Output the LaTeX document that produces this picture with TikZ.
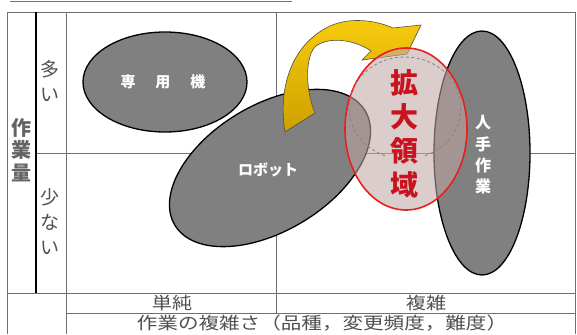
\documentclass[tikz,border=0pt]{standalone}
\usepackage{fontspec}
\setmainfont{Noto Sans CJK JP}
\newfontfamily\jp{Noto Sans CJK JP}
\usetikzlibrary{shapes.geometric}
\definecolor{gridgray}{RGB}{112,112,112}
\definecolor{blobgray}{RGB}{128,128,128}
\definecolor{axgray}{RGB}{80,80,80}
\definecolor{axgraylt}{RGB}{100,100,100}
\definecolor{pinkfill}{RGB}{193,167,167}
\definecolor{redline}{RGB}{235,30,30}
\definecolor{kred}{RGB}{200,20,30}
\definecolor{dashgray}{RGB}{130,130,130}
\definecolor{goldtop}{RGB}{248,204,12}
\definecolor{goldbot}{RGB}{205,160,0}
\definecolor{arrowline}{RGB}{80,80,60}
\begin{document}
\begin{tikzpicture}[x=1pt,y=-1pt,
  grid/.style={draw=gridgray, line width=0.9pt},
  blob/.style={draw=black, line width=1.3pt, fill=blobgray},
  wlabel/.style={text=white, inner sep=0pt, font=\jp\bfseries\fontsize{15}{18}\selectfont},
  axlabel/.style={text=axgray, inner sep=0pt, align=center, font=\jp\fontsize{19}{25}\selectfont},
  xlabel/.style={text=axgray, inner sep=0pt, font=\jp\fontsize{17}{20}\selectfont},
]
\useasboundingbox (0,0) rectangle (577,334);
\fill[white] (0,0) rectangle (577,334);
% table lines
\draw[grid] (10,1) -- (292,1);
\draw[grid] (7,334) -- (7,12) -- (575,12) -- (575,334);
\draw[grid] (36,153) -- (575,153);
\draw[grid] (7,293) -- (575,293);
\draw[grid] (66,313) -- (575,313);
\draw[grid] (66,12) -- (66,334);
\draw[grid] (276,12) -- (276,313);
\draw[black, line width=1.8pt] (36,12) -- (36,293);
% axis labels
\node[axlabel, text=axgraylt, font=\jp\bfseries\fontsize{20}{22.5}\selectfont] (sagyoryo) at (22,150) {作\\業\\量};
\node[axlabel] (ooi) at (50,81) {多\\い};
\node[axlabel] (sukunai) at (50,222) {少\\な\\い};
\node[xlabel] (tanjun) at (172,303) {\scalebox{1.18}[1]{単純}};
\node[xlabel] (fukuzatsu) at (426,303) {\scalebox{1.18}[1]{複雑}};
\node[xlabel] (fukuzatsusa) at (322,323) {\scalebox{1.21}[1]{作業の複雑さ（品種，変更頻度，難度）}};
% ellipses
\node[blob, ellipse, minimum width=164pt, minimum height=100pt, inner sep=0pt] (senyo) at (165,82) {};
\node[wlabel] (senyolbl) at (163,82) {専\hspace{20pt}用\hspace{20pt}機};
\draw[blob, rotate around={31:(270,168)}] (270,168) ellipse [x radius=111, y radius=63];
\node[wlabel] (robotlbl) at (268,170) {ロボット};
% yellow curved arrow
\path[top color=goldtop, bottom color=goldbot, draw=arrowline, line width=0.6pt, line join=miter]
  (285,132) .. controls (278,90) and (290,45) .. (330,26)
  .. controls (350,17) and (375,20) .. (393,28)
  -- (421,25) -- (407,54) -- (362,60) -- (371,51)
  .. controls (355,40) and (330,36) .. (316,46)
  .. controls (305,55) and (305,90) .. (315,113) -- cycle;
\node[blob, ellipse, minimum width=96pt, minimum height=244pt, inner sep=0pt] (jinte) at (482,153) {};
\node[wlabel, align=center, font=\jp\bfseries\fontsize{16}{21.3}\selectfont] (jintelbl) at (483,155) {人\\手\\作\\業};
% expansion region
\node[ellipse, draw=redline, line width=1.6pt, fill=pinkfill, fill opacity=0.56, minimum width=122pt, minimum height=162pt, inner sep=0pt] (kakudai) at (406,129) {};
\begin{scope}
  \clip (300,40) rectangle (480,155);
  \draw[dashgray, dash pattern=on 3pt off 2.5pt, line width=0.8pt] (405,108) ellipse [x radius=56, y radius=51];
\end{scope}
\node[text=kred, inner sep=0pt, align=center, font=\jp\bfseries\fontsize{28}{34}\selectfont] (kakudailbl) at (404,134) {拡\\大\\領\\域};
\end{tikzpicture}
\end{document}
